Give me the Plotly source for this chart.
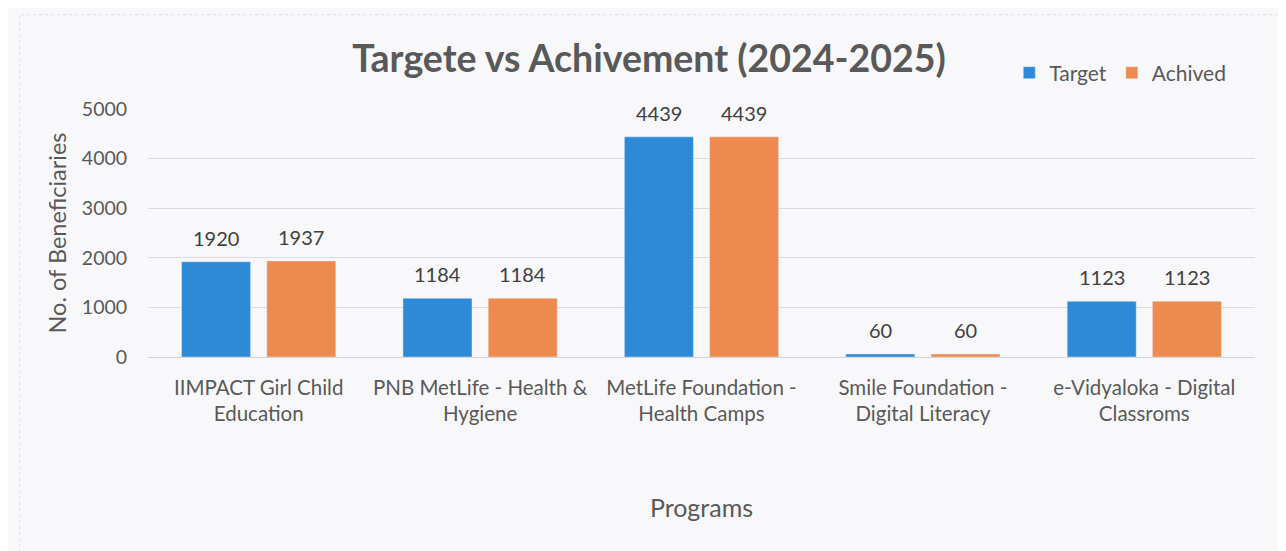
import plotly.graph_objects as go

categories = [
    "IIMPACT Girl Child<br>Education",
    "PNB MetLife - Health &<br>Hygiene",
    "MetLife Foundation -<br>Health Camps",
    "Smile Foundation -<br>Digital Literacy",
    "e-Vidyaloka - Digital<br>Classroms",
]
target = [1920, 1184, 4439, 60, 1123]
achived = [1937, 1184, 4439, 60, 1123]
y_ticks = [0, 1000, 2000, 3000, 4000, 5000]

FONT = "Lato"
TXT = "#595959"
LBL = "#404040"

fig = go.Figure()
fig.add_trace(go.Bar(x=categories, y=target, name="Target",
                     marker=dict(color="#2C8AD8")))
fig.add_trace(go.Bar(x=categories, y=achived, name="Achived",
                     marker=dict(color="#EE8A4D")))

# data labels placed above each bar (offset to each bar of the group)
annotations = []
for series, dx in ((target, -42.5), (achived, 42.5)):
    for cat, val in zip(categories, series):
        annotations.append(dict(
            x=cat, y=val, xref="x", yref="y", text=str(val),
            showarrow=False, xshift=dx, yshift=24, yanchor="middle",
            font=dict(size=20, color=LBL, family=FONT)))

fig.update_layout(
    width=1286, height=551,
    paper_bgcolor="#f8f8fa", plot_bgcolor="#f8f8fa",
    margin=dict(l=140, r=39, t=101, b=202, autoexpand=False),
    barmode="group", bargap=0.23, bargroupgap=0.19,
    font=dict(family=FONT, color=TXT, size=20),
    title=dict(text="<b>Targete vs Achivement (2024-2025)</b>",
               x=0.4985, xanchor="center", y=0.907, yanchor="middle",
               font=dict(size=37.5, color=TXT, family=FONT)),
    legend=dict(orientation="h", x=0.778, xanchor="left", y=0.882, yanchor="middle",
                yref="container", font=dict(size=21, color=TXT),
                itemwidth=30, bgcolor="rgba(0,0,0,0)", traceorder="normal"),
    xaxis=dict(
        automargin=False,
        title=dict(text="Programs", font=dict(size=25, color=TXT), standoff=75),
        tickfont=dict(size=20.5, color=TXT),
        showline=True, linecolor="#d4d4d8", linewidth=1,
        ticks="outside", ticklen=12, tickcolor="rgba(0,0,0,0)",
    ),
    yaxis=dict(
        automargin=False,
        title=dict(text="No. of Beneficiaries", font=dict(size=23.5, color=TXT), standoff=8),
        range=[0, 5000], tickvals=y_ticks,
        tickfont=dict(size=19.5, color=TXT),
        gridcolor="#dcdce0", gridwidth=1, zeroline=False,
        ticks="outside", ticklen=16, tickcolor="rgba(0,0,0,0)",
    ),
    annotations=annotations,
    shapes=[dict(type="rect", xref="paper", yref="paper",
                 x0=-0.116, x1=1.024, y0=-0.80, y1=1.38,
                 line=dict(color="#dddde0", width=1, dash="dot"))],
)

fig.write_html("out.html")
